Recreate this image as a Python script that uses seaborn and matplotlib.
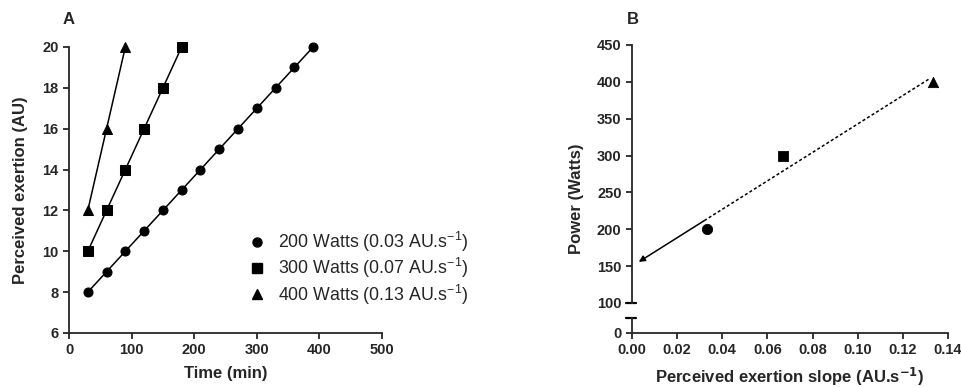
import numpy as np
import matplotlib.pyplot as plt
import seaborn as sns
from matplotlib.lines import Line2D

# Panel A: perceived exertion over time at three power outputs
time_200 = [30, 60, 90, 120, 150, 180, 210, 240, 270, 300, 330, 360, 390]
rpe_200 = [8, 9, 10, 11, 12, 13, 14, 15, 16, 17, 18, 19, 20]
time_300 = [30, 60, 90, 120, 150, 180]
rpe_300 = [10, 12, 14, 16, 18, 20]
time_400 = [30, 60, 90]
rpe_400 = [12, 16, 20]
series_labels = ['200 Watts (0.03 AU.s$^{-1}$)',
                 '300 Watts (0.07 AU.s$^{-1}$)',
                 '400 Watts (0.13 AU.s$^{-1}$)']
markers = ['o', 's', '^']

# Panel B: power against perceived exertion slope
slopes = [0.0333, 0.0667, 0.1333]
powers = [200, 300, 400]
fit_dotted_x = [0.032, 0.1315]
fit_arrow_x = [0.032, 0.003]

sns.set_style('ticks')
plt.rcParams['font.family'] = ['Liberation Sans', 'DejaVu Sans']
plt.rcParams['mathtext.default'] = 'regular'
plt.rcParams['axes.linewidth'] = 1.3
plt.rcParams['xtick.major.width'] = 1.3
plt.rcParams['ytick.major.width'] = 1.3
plt.rcParams['xtick.major.size'] = 4
plt.rcParams['ytick.major.size'] = 4

W, H = 961, 387
fig = plt.figure(figsize=(W / 100, H / 100), dpi=100)


def box(x0, y0, x1, y1):
    # pixel box (top-left origin) -> figure fraction rect
    return [x0 / W, 1 - y1 / H, (x1 - x0) / W, (y1 - y0) / H]


tick_font = dict(fontsize=10.5, fontweight='bold')
label_font = dict(fontsize=12, fontweight='bold')

# ---------------- Panel A ----------------
axA = fig.add_axes(box(69, 47, 382, 333))
for t, r, m in zip([time_200, time_300, time_400], [rpe_200, rpe_300, rpe_400], markers):
    sns.lineplot(x=t, y=r, ax=axA, color='black', marker=m, markersize=6.5,
                 markeredgecolor='black', linewidth=1.1, clip_on=False)
axA.set_xlim(0, 500)
axA.set_ylim(6, 20)
axA.set_xticks(range(0, 501, 100))
axA.set_yticks(range(6, 21, 2))
axA.set_xticklabels([str(v) for v in range(0, 501, 100)], **tick_font)
axA.set_yticklabels([str(v) for v in range(6, 21, 2)], **tick_font)
axA.set_xlabel('Time (min)', labelpad=6, **label_font)
axA.set_ylabel('')
sns.despine(ax=axA)

handles = [Line2D([], [], color='black', marker=m, linestyle='none', markersize=6.5)
           for m in markers]
axA.legend(handles, series_labels, loc='upper left', bbox_to_anchor=(0.555, 0.385),
           frameon=False, fontsize=12.8, handlelength=0.8, handletextpad=0.8,
           labelspacing=0.12, borderaxespad=0)

# ---------------- Panel B (broken y axis) ----------------
axB = fig.add_axes(box(632, 45, 948, 303))
axB0 = fig.add_axes(box(632, 318, 948, 333))
for s, p, m in zip(slopes, powers, markers):
    sns.scatterplot(x=[s], y=[p], ax=axB, color='black', marker=m, s=55,
                    edgecolor='black', clip_on=False)

coef = np.polyfit(slopes, powers, 1)
xd = np.array(fit_dotted_x)
axB.plot(xd, np.polyval(coef, xd), color='black', linewidth=1.1, linestyle=(0, (2, 1.5)))
axB.annotate('', xy=(fit_arrow_x[1], np.polyval(coef, fit_arrow_x[1])),
             xytext=(fit_arrow_x[0], np.polyval(coef, fit_arrow_x[0])),
             arrowprops=dict(arrowstyle='-|>', color='black', lw=1.1, mutation_scale=9,
                             shrinkA=0, shrinkB=0))

for ax in (axB, axB0):
    ax.set_xlim(0, 0.14)
axB.set_ylim(100, 450)
axB.set_yticks(range(100, 451, 50))
axB.set_yticklabels([str(v) for v in range(100, 451, 50)], **tick_font)
axB.set_xticks([])
axB.set_xlabel('')
axB.set_ylabel('')
for side in ('top', 'right', 'bottom'):
    axB.spines[side].set_visible(False)

axB0.set_ylim(0, 20)
axB0.set_yticks([0])
axB0.set_yticklabels(['0'], **tick_font)
xt = np.arange(0, 0.141, 0.02)
axB0.set_xticks(xt)
axB0.set_xticklabels([f'{v:.2f}' for v in xt], **tick_font)
axB0.set_xlabel(r'Perceived exertion slope (AU.s$^{\mathbf{-1}}$)', labelpad=6, **label_font)
sns.despine(ax=axB0)

# break caps
axB.plot([-0.018, 0.012], [0, 0], transform=axB.transAxes, color='black', lw=1.6, clip_on=False)
axB0.plot([-0.018, 0.012], [1, 1], transform=axB0.transAxes, color='black', lw=1.6, clip_on=False)

# y labels and panel letters
fig.text(21 / W, 1 - 190 / H, 'Perceived exertion (AU)', rotation=90, ha='center', va='center', **label_font)
fig.text(577 / W, 1 - 199 / H, 'Power (Watts)', rotation=90, ha='center', va='center', **label_font)
fig.text(69 / W, 1 - 20 / H, 'A', ha='center', va='center', fontsize=12, fontweight='bold')
fig.text(633 / W, 1 - 20 / H, 'B', ha='center', va='center', fontsize=12, fontweight='bold')

fig.savefig('out.png', dpi=100)
